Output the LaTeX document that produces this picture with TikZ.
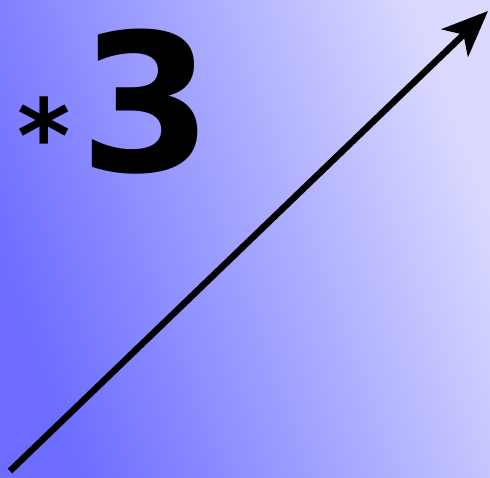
\documentclass[tikz,border=0pt]{standalone}
\usepackage{fontspec}
\setmainfont{DejaVu Sans}
\usetikzlibrary{arrows.meta}
\definecolor{bgleft}{RGB}{108,108,255}
\definecolor{bgright}{RGB}{218,218,255}
\begin{document}
\begin{tikzpicture}[x=1pt, y=-1pt]
\tikzstyle{label} = [inner sep=0pt, anchor=base, text=black, font=\bfseries]
\tikzstyle{line} = [draw, line width=6.5pt, -{Stealth[length=46pt, width=38pt, inset=12pt]}]

\shade [left color=bgleft, right color=bgright, shading angle=110] (0,0) rectangle (490,477);
\useasboundingbox (0,0) rectangle (490,477);

\node [label, font=\fontsize{102}{102}\selectfont\bfseries] (star) at (44,172.5) {*};
\node [label, font=\fontsize{192}{192}\selectfont\bfseries] (three) at (146.5,171) {3};

\coordinate (start) at (10,471);
\coordinate (end) at (488,11);
\path [line] (start) -- (end);

\end{tikzpicture}
\end{document}
